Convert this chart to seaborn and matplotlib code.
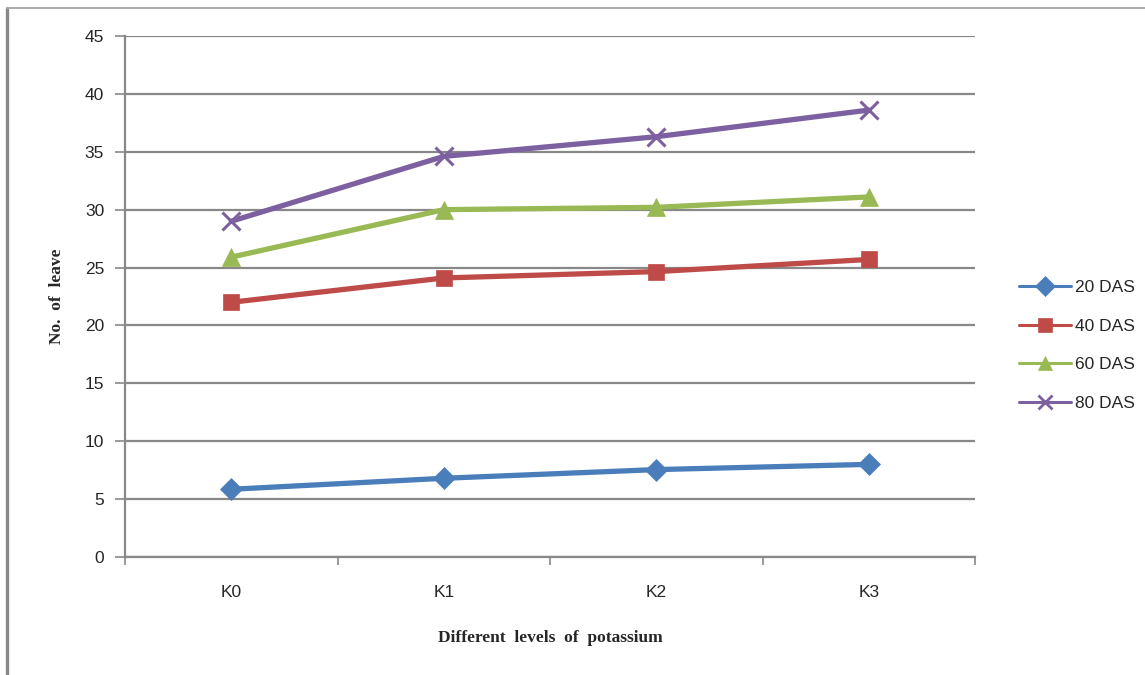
import matplotlib
matplotlib.use("Agg")
import matplotlib.pyplot as plt
import seaborn as sns
import pandas as pd
from matplotlib.lines import Line2D

# Number of leaves at each potassium level, by days after sowing
levels = ["K0", "K1", "K2", "K3"]
das_20 = [5.85, 6.8, 7.55, 8.0]
das_40 = [22.0, 24.1, 24.65, 25.7]
das_60 = [25.9, 30.0, 30.2, 31.1]
das_80 = [29.0, 34.6, 36.3, 38.6]
series_names = ["20 DAS", "40 DAS", "60 DAS", "80 DAS"]
y_ticks = [0, 5, 10, 15, 20, 25, 30, 35, 40, 45]

colors = ["#4A7EBB", "#BE4B48", "#98B954", "#7D60A0"]
markers = ["D", "s", "^", "x"]
msizes = [11, 12, 13, 13]

rows = []
for name, vals in zip(series_names, [das_20, das_40, das_60, das_80]):
    for i, v in enumerate(vals):
        rows.append({"pos": i, "level": levels[i], "series": name, "leaves": v})
df = pd.DataFrame(rows)

sns.set_theme(style="white")
plt.rcParams["font.family"] = ["Liberation Sans Narrow", "Liberation Sans", "DejaVu Sans"]

fig = plt.figure(figsize=(11.45, 6.75), dpi=100)
ax = fig.add_axes([0.1092, 0.1748, 0.7424, 0.7719])

for name, col, mk, ms in zip(series_names, colors, markers, msizes):
    sub = df[df["series"] == name]
    sns.lineplot(data=sub, x="pos", y="leaves", ax=ax, color=col, linewidth=3.8,
                 marker=mk, markersize=ms, markeredgecolor=col,
                 markeredgewidth=2.2 if mk == "x" else 0.5, legend=False)

ax.set_xlim(-0.5, 3.5)
ax.set_ylim(0, 45)
ax.set_yticks(y_ticks)
ax.yaxis.grid(True, color="#888888", linewidth=1.6)
ax.set_axisbelow(True)

ax.set_xticks(range(len(levels)))
ax.set_xticklabels(levels, fontsize=12.5)
ax.set_xticks([-0.5, 0.5, 1.5, 2.5, 3.5], minor=True)
ax.tick_params(axis="x", which="major", length=0, pad=20)
ax.tick_params(axis="x", which="minor", length=6, width=1.2, color="#888888", direction="out")
ax.tick_params(axis="y", length=7, width=1.2, color="#888888", direction="out",
               labelsize=12.5, pad=8)
ax.tick_params(left=True, bottom=True, which="both")

for side in ["top", "right"]:
    ax.spines[side].set_visible(False)
for side in ["left", "bottom"]:
    ax.spines[side].set_color("#888888")
    ax.spines[side].set_linewidth(1.6)

ax.set_xlabel("Different  levels  of  potassium", fontsize=12.5, fontweight="bold",
              family="Liberation Serif", labelpad=22)
ax.set_ylabel("No.  of  leave", fontsize=12.5, fontweight="bold",
              family="Liberation Serif", labelpad=14)

handles = [Line2D([0], [0], color=c, linewidth=2.2, marker=m, markersize=10,
                  markeredgecolor=c, markeredgewidth=2 if m == "x" else 0.5)
           for c, m in zip(colors, markers)]
fig.legend(handles, series_names, loc="center left", bbox_to_anchor=(0.876, 0.488),
           frameon=False, fontsize=12.5, labelspacing=1.35, handlelength=3.0,
           handletextpad=0.25)

# chart frame on the left and top edges
fig.add_artist(Line2D([0.0065, 0.0065], [0.0, 0.988], transform=fig.transFigure,
                      color="#888888", linewidth=2.4))
fig.add_artist(Line2D([0.0065, 1.0], [0.988, 0.988], transform=fig.transFigure,
                      color="#aaaaaa", linewidth=1.4))

fig.savefig("out.png", dpi=100, facecolor="white")
